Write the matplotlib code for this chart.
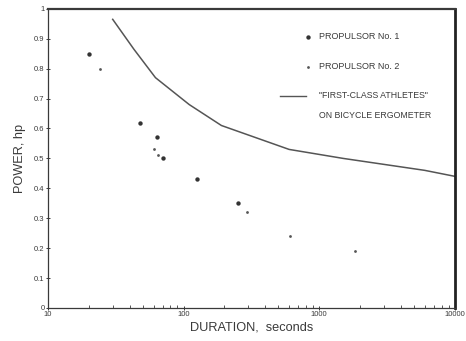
import numpy as np
import matplotlib
matplotlib.use('Agg')
from matplotlib import pyplot as plt

plt.rcParams['font.family'] = ['Liberation Sans', 'DejaVu Sans']

# propulsor No. 1 (bigger dots)
p1_dur = [20, 48, 64, 70, 125, 250]
p1_hp = [0.85, 0.62, 0.57, 0.50, 0.43, 0.35]

# propulsor No. 2 (small dots)
p2_dur = [24, 60, 65, 295, 610, 1850]
p2_hp = [0.80, 0.53, 0.51, 0.32, 0.24, 0.19]

# "first-class athletes" on bicycle ergometer
ath_dur = [30, 43, 62, 110, 190, 600, 1500, 3000, 6000, 10000]
ath_hp = [0.965, 0.865, 0.77, 0.68, 0.61, 0.53, 0.50, 0.48, 0.46, 0.44]

ink = '#3a3a3a'

fig = plt.figure(figsize=(4.66, 3.41), dpi=100)
ax = fig.add_axes([0.103, 0.097, 0.873, 0.877])

ax.plot(ath_dur, ath_hp, color='#555555', lw=1.1)
ax.scatter(p1_dur, p1_hp, s=10, color='#333333', marker='o', linewidths=0)
ax.scatter(p2_dur, p2_hp, s=4, color='#555555', marker='o', linewidths=0)

ax.set_xscale('log')
ax.set_xlim(10, 10000)
ax.set_ylim(0, 1)
ax.set_yticks(np.arange(0, 1.01, 0.1))
ax.set_yticklabels(['0', '0.1', '0.2', '0.3', '0.4', '0.5', '0.6', '0.7', '0.8', '0.9', '1'])
ax.set_xticks([10, 100, 1000, 10000])
ax.set_xticklabels(['10', '100', '1000', '10000'])
ax.tick_params(axis='both', labelsize=5.5, colors=ink, direction='inout', length=3, width=0.7, pad=1)
ax.tick_params(axis='x', which='minor', direction='in', length=2, width=0.6, color=ink)

for side in ['left', 'bottom']:
    ax.spines[side].set_color(ink)
    ax.spines[side].set_linewidth(0.9)
ax.spines['top'].set_color(ink)
ax.spines['top'].set_linewidth(1.6)
ax.spines['right'].set_color('#222222')
ax.spines['right'].set_linewidth(2.0)

ax.set_xlabel('DURATION,  seconds', fontsize=9.2, color=ink, labelpad=2)
ax.set_ylabel('POWER, hp', fontsize=9.2, color=ink, labelpad=6)

# legend drawn by hand like the original
ax.scatter([0.639], [0.907], s=10, color='#333333', marker='o', linewidths=0, transform=ax.transAxes)
ax.text(0.666, 0.907, 'PROPULSOR No. 1', fontsize=6.5, color=ink, va='center', transform=ax.transAxes)
ax.scatter([0.639], [0.807], s=4, color='#555555', marker='o', linewidths=0, transform=ax.transAxes)
ax.text(0.666, 0.807, 'PROPULSOR No. 2', fontsize=6.5, color=ink, va='center', transform=ax.transAxes)
ax.plot([0.570, 0.634], [0.709, 0.709], color='#555555', lw=1.0, transform=ax.transAxes)
ax.text(0.666, 0.709, '"FIRST-CLASS ATHLETES"', fontsize=6.3, color=ink, va='center', transform=ax.transAxes)
ax.text(0.666, 0.643, 'ON BICYCLE ERGOMETER', fontsize=6.3, color=ink, va='center', transform=ax.transAxes)

fig.savefig('out.png', dpi=100)
